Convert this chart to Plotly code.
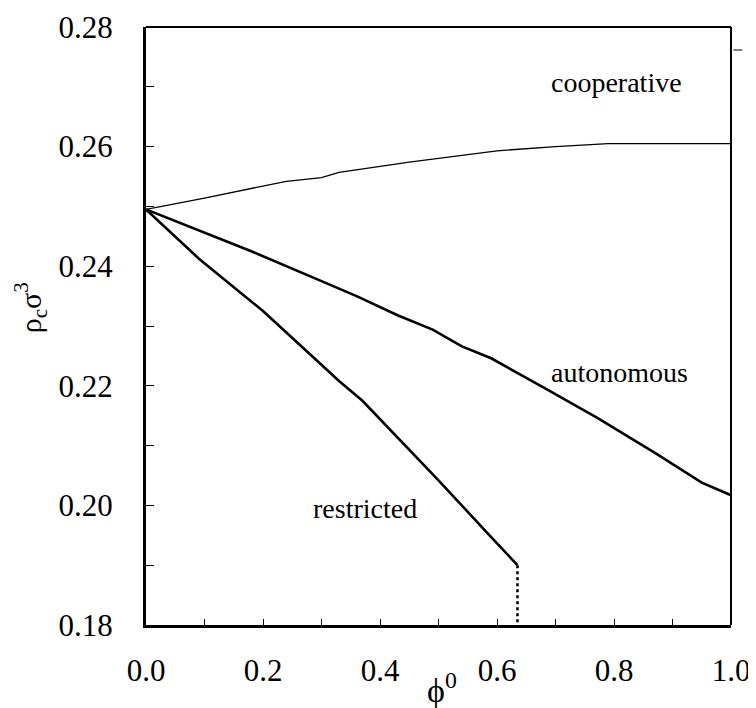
import plotly.graph_objects as go

# phase boundaries
coop_x = [0.0, 0.1, 0.24, 0.30, 0.33, 0.45, 0.60, 0.70, 0.79, 0.90, 1.0]
coop_y = [0.2495, 0.2514, 0.2542, 0.2548, 0.2557, 0.2574, 0.2593, 0.2600, 0.2605, 0.2605, 0.2605]

auto_x = [0.0, 0.1, 0.18, 0.30, 0.36, 0.43, 0.49, 0.54, 0.59, 0.68, 0.77, 0.87, 0.95, 1.0]
auto_y = [0.2495, 0.2456, 0.2425, 0.2375, 0.2350, 0.2318, 0.2294, 0.2266, 0.2246, 0.2197, 0.2147, 0.2088, 0.2038, 0.2017]

restr_x = [0.0, 0.09, 0.20, 0.25, 0.33, 0.37, 0.50, 0.59, 0.635]
restr_y = [0.2495, 0.2413, 0.2325, 0.2280, 0.2208, 0.2175, 0.2042, 0.1947, 0.1900]

limit_x = [0.635, 0.635]
limit_y = [0.1900, 0.1800]

x_ticks = [round(i * 0.1, 1) for i in range(11)]
x_text = ["%.1f" % v if i % 2 == 0 else "" for i, v in enumerate(x_ticks)]
y_ticks = [round(0.18 + i * 0.01, 2) for i in range(11)]
y_text = ["%.2f" % v if i % 2 == 0 else "" for i, v in enumerate(y_ticks)]

serif = "Liberation Serif"

fig = go.Figure()
fig.add_trace(go.Scatter(x=coop_x, y=coop_y, mode="lines",
                         line=dict(color="black", width=1.3)))
fig.add_trace(go.Scatter(x=auto_x, y=auto_y, mode="lines",
                         line=dict(color="black", width=2.6)))
fig.add_trace(go.Scatter(x=restr_x, y=restr_y, mode="lines",
                         line=dict(color="black", width=2.6)))
fig.add_trace(go.Scatter(x=limit_x, y=limit_y, mode="lines",
                         line=dict(color="black", width=2.6, dash="dot")))

# page body adds an 8px offset, so the figure is 8px smaller each way
fig.update_layout(
    width=748, height=700,
    margin=dict(l=138, r=25, t=19, b=83),
    plot_bgcolor="white", paper_bgcolor="white",
    showlegend=False,
    font=dict(family=serif, color="black"),
)
fig.update_xaxes(range=[0, 1.0], tickvals=x_ticks, ticktext=x_text,
                 ticks="inside", ticklen=6, tickwidth=1.2, tickcolor="black",
                 showgrid=False, zeroline=False, automargin=False,
                 showline=True, linecolor="black", linewidth=3,
                 tickfont=dict(family=serif, size=31), ticklabelstandoff=16)
fig.update_yaxes(range=[0.18, 0.28], tickvals=y_ticks, ticktext=y_text,
                 ticks="inside", ticklen=8, tickwidth=1.2, tickcolor="black",
                 showgrid=False, zeroline=False, automargin=False,
                 showline=True, linecolor="black", linewidth=3,
                 tickfont=dict(family=serif, size=31), ticklabelstandoff=24)

# top and right frame, thinner than the axes
fig.add_shape(type="line", xref="paper", yref="paper", x0=0, x1=1, y0=1, y1=1,
              line=dict(color="black", width=2))
fig.add_shape(type="line", xref="paper", yref="paper", x0=1, x1=1, y0=0, y1=1,
              line=dict(color="black", width=2))
# small dashed stub on the right edge of the scan
fig.add_shape(type="line", xref="paper", yref="paper", x0=1.004, x1=1.043,
              y0=0.9615, y1=0.9615, line=dict(color="black", width=1, dash="dash"))

labels = [("cooperative", 0.805, 0.2708), ("autonomous", 0.81, 0.2222),
          ("restricted", 0.374, 0.1995)]
for txt, lx, ly in labels:
    fig.add_annotation(x=lx, y=ly, text=txt, showarrow=False,
                       xanchor="center", yanchor="middle",
                       font=dict(family=serif, size=28))

fig.add_annotation(x=0.506, y=-0.105, xref="paper", yref="paper",
                   text="ϕ<sup>0</sup>", showarrow=False,
                   xanchor="center", yanchor="middle",
                   font=dict(family=serif, size=34))
fig.add_annotation(x=-0.198, y=0.53, xref="paper", yref="paper",
                   text="ρ<sub>c</sub>σ<sup>3</sup>", textangle=-90, showarrow=False,
                   xanchor="center", yanchor="middle",
                   font=dict(family=serif, size=30))

fig.write_html("out.html")
